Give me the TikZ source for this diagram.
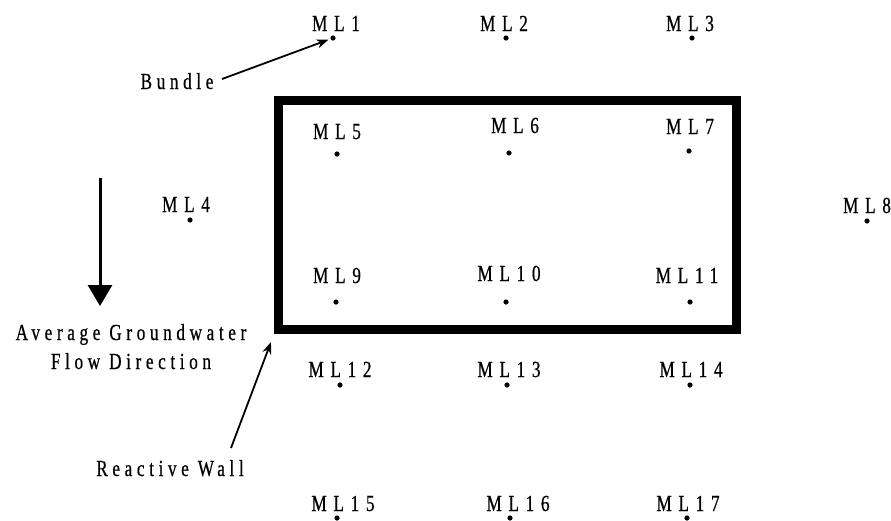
\documentclass[tikz,border=0pt]{standalone}
\usepackage{fontspec}
\setmainfont{Liberation Serif}
\newfontfamily\lblfont{Liberation Serif}[LetterSpace=29,FakeStretch=0.75,FakeBold=0.6]
\newfontfamily\txtfont{Liberation Serif}[LetterSpace=20,FakeStretch=0.75,FakeBold=0.6]
\usetikzlibrary{arrows.meta}
\begin{document}
\begin{tikzpicture}[x=1pt,y=-1pt,
  lbl/.style={font=\lblfont\fontsize{23}{26}\selectfont, anchor=base, inner sep=0pt},
  txt/.style={font=\txtfont\fontsize{23}{26}\selectfont, anchor=base, inner sep=0pt},
  pt/.style={circle, fill=black, inner sep=0pt, minimum size=5.2pt},
  wall/.style={draw=black, line width=9pt, inner sep=0pt},
  ptr/.style={line width=1.8pt, -{Stealth[length=12pt,width=9pt]}},
  flow/.style={line width=3pt, -{Triangle[length=21pt,width=24pt]}}]
\useasboundingbox (0,0) rectangle (891,520);

% reactive wall
\node[wall, minimum width=458pt, minimum height=229pt] (wallbox) at (507,214.5) {};

% monitoring locations: dots
\node[pt] (d1) at (333,38) {};
\node[pt] (d2) at (506,38) {};
\node[pt] (d3) at (692,38) {};
\node[pt] (d4) at (190,220) {};
\node[pt] (d5) at (337,154) {};
\node[pt] (d6) at (509,153) {};
\node[pt] (d7) at (689,151) {};
\node[pt] (d8) at (867,221) {};
\node[pt] (d9) at (336,302) {};
\node[pt] (d10) at (506,302) {};
\node[pt] (d11) at (690,302) {};
\node[pt] (d12) at (340,385) {};
\node[pt] (d13) at (507,385) {};
\node[pt] (d14) at (690,385) {};
\node[pt] (d15) at (337,518) {};
\node[pt] (d16) at (510,518) {};
\node[pt] (d17) at (687,518) {};

% labels
\node[lbl] (l1) at (336,31) {ML1};
\node[lbl] (l2) at (504,31) {ML2};
\node[lbl] (l3) at (690,31) {ML3};
\node[lbl] (l4) at (186,212) {ML4};
\node[lbl] (l5) at (337,139) {ML5};
\node[lbl] (l6) at (515,133) {ML6};
\node[lbl] (l7) at (690,134) {ML7};
\node[lbl] (l8) at (867,213) {ML8};
\node[lbl] (l9) at (337,283) {ML9};
\node[lbl] (l10) at (509,281) {ML10};
\node[lbl] (l11) at (687,283) {ML11};
\node[lbl] (l12) at (340,377) {ML12};
\node[lbl] (l13) at (509,377) {ML13};
\node[lbl] (l14) at (691,377) {ML14};
\node[lbl] (l15) at (343,511) {ML15};
\node[lbl] (l16) at (518,511) {ML16};
\node[lbl] (l17) at (688,511) {ML17};

% annotations
\node[txt] (bundle) at (177,89) {Bundle};
\coordinate (bstart) at (222,79);
\draw[ptr, shorten >=2pt] (bstart) -- (d1);

\node[txt] (ag1) at (131,340) {Average Groundwater};
\node[txt] (ag2) at (131,369) {Flow Direction};
\coordinate (ftop) at (100,178);
\coordinate (ftip) at (100,306);
\draw[flow] (ftop) -- (ftip);

\node[txt] (rw) at (170,476) {Reactive Wall};
\coordinate (rstart) at (231,448);
\coordinate (rtip) at (271,342);
\draw[ptr] (rstart) -- (rtip);
\end{tikzpicture}
\end{document}
